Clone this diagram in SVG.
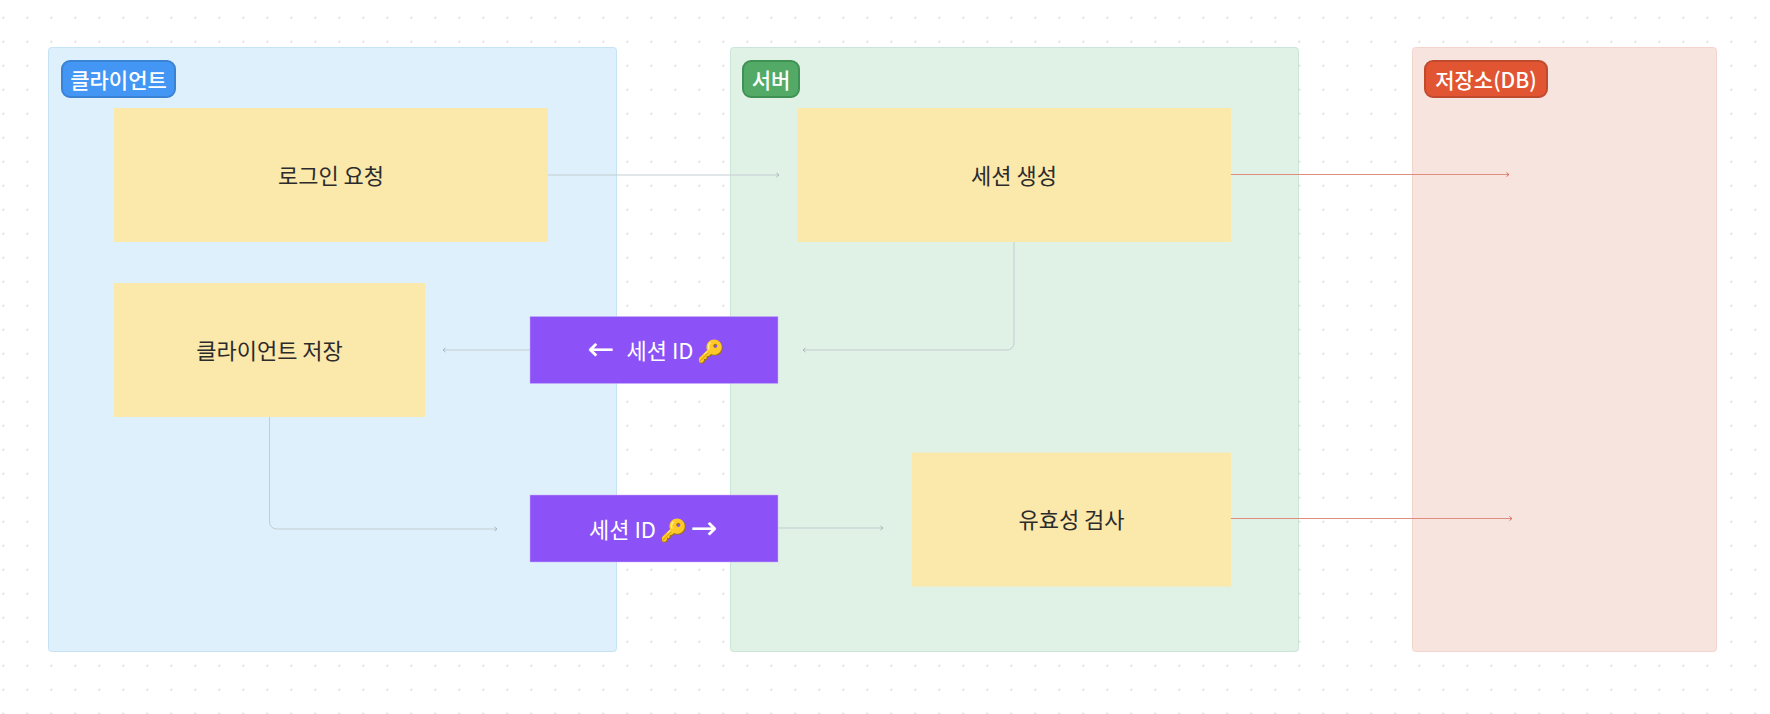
<svg xmlns="http://www.w3.org/2000/svg" width="1770" height="714" viewBox="0 0 1770 714">
<style>
text{font-family:"Noto Sans CJK KR","Noto Sans",sans-serif;text-anchor:middle;dominant-baseline:central}
.group{stroke-width:1;stroke-opacity:.8}
.badge{stroke-width:2}
.badge-text{font-size:21px;font-weight:500;fill:#fff}
.note{fill:#fbe8ab}
.note-text{font-size:22px;font-weight:400;fill:#2b2b2b}
.pill{fill:#8c52f7;stroke:#c9b0f5;stroke-width:.5}
.pill-text{font-size:22px;fill:#fff}
.arrow-text{font-family:"DejaVu Sans",sans-serif;font-size:32px;fill:#fff}
.link{fill:none;stroke:#c3cdd1;stroke-width:1;marker-end:url(#a)}
.red{fill:none;stroke:#df8d7e;stroke-width:1;marker-end:url(#r)}
</style>
<defs>
<pattern id="dots" x="1.3" y="15.7" width="24" height="24" patternUnits="userSpaceOnUse"><circle cx="2" cy="2" r="1.1" fill="#d9d9d9"/></pattern>
<marker id="a" markerWidth="6" markerHeight="6" refX="4" refY="3" orient="auto" markerUnits="userSpaceOnUse"><path d="M1.500 1L4 3L1.500 5" fill="none" stroke="#aab7bd" stroke-width="1"/></marker>
<marker id="r" markerWidth="6" markerHeight="6" refX="4" refY="3" orient="auto" markerUnits="userSpaceOnUse"><path d="M1.500 1L4 3L1.500 5" fill="none" stroke="#d9705d" stroke-width="1"/></marker>
</defs>
<rect width="1770" height="714" fill="#fff"/>
<rect x="0" y="0" width="1770" height="714" fill="url(#dots)"/>
<g id="group-client"><rect class="group" x="48.500" y="47.500" width="568" height="604" rx="3" fill="#def0fc" stroke="#bcdcf3"/><rect class="badge" x="62" y="61" width="113" height="36" rx="8" fill="#4496f5" stroke="#3a82d4"/><text class="badge-text" x="118.500" y="78.500">클라이언트</text></g>
<g id="group-server"><rect class="group" x="730.500" y="47.500" width="568" height="604" rx="3" fill="#e0f1e6" stroke="#c3e0d2"/><rect class="badge" x="743" y="61" width="56" height="36" rx="8" fill="#52aa66" stroke="#3f9254"/><text class="badge-text" x="771" y="78.500">서버</text></g>
<g id="group-db"><rect class="group" x="1412.500" y="47.500" width="304" height="604" rx="3" fill="#f8e4df" stroke="#f2cdc5"/><rect class="badge" x="1425" y="61" width="122" height="36" rx="8" fill="#e25532" stroke="#c04a2e"/><text class="badge-text" x="1486" y="78.500">저장소(DB)</text></g>
<g id="connectors">
<path class="link" d="M548 175H779"/>
<path class="red" d="M1231 174.500H1509"/>
<path class="red" d="M1231 518.500H1512"/>
<path class="link" d="M1014 242V342Q1014 350 1006 350H803"/>
<path class="link" d="M530 350H443"/>
<path class="link" d="M269.500 417V521Q269.500 529 277.500 529H497"/>
<path class="link" d="M778 528H883"/>
</g>
<g id="node-login"><rect class="note" x="114" y="108" width="434" height="134"/><text class="note-text" x="331" y="174">로그인 요청</text></g>
<g id="node-create"><rect class="note" x="797.500" y="108" width="433.500" height="134"/><text class="note-text" x="1014" y="174">세션 생성</text></g>
<g id="node-store"><rect class="note" x="114" y="283" width="311" height="134"/><text class="note-text" x="269.500" y="349">클라이언트 저장</text></g>
<g id="node-validate"><rect class="note" x="912" y="452.500" width="319" height="134"/><text class="note-text" x="1071.500" y="518">유효성 검사</text></g>
<g id="node-id-back"><rect class="pill" x="530" y="316.500" width="248" height="67"/><text class="arrow-text" x="601" y="349">←</text><text class="pill-text" x="660" y="349">세션 ID</text><text class="pill-text" x="710" y="349">🔑</text></g>
<g id="node-id-forward"><rect class="pill" x="530" y="495" width="248" height="67"/><text class="pill-text" x="622.500" y="528">세션 ID</text><text class="pill-text" x="673" y="528">🔑</text><text class="arrow-text" x="704" y="528">→</text></g>
</svg>
